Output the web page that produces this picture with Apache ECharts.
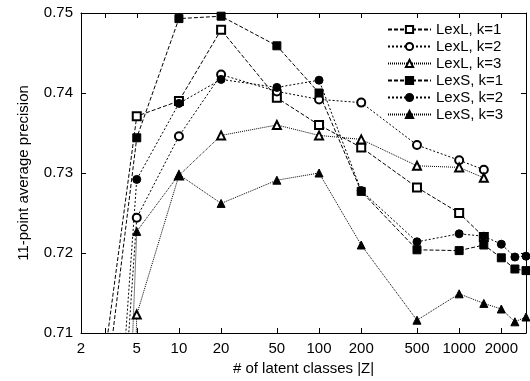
<!DOCTYPE html>
<html>
<head>
<meta charset="utf-8">
<script src="https://cdn.jsdelivr.net/npm/echarts@6/dist/echarts.min.js"></script>
<style>html,body{margin:0;padding:0;background:#fff;}#c{width:530px;height:381px;}</style>
</head>
<body>
<div id="c"></div>
<script>
// |Z| values (number of latent classes)
const zLexL = [2, 5, 10, 20, 50, 100, 200, 500, 1000, 1500];
const zLexS = [2, 5, 10, 20, 50, 100, 200, 500, 1000, 1500, 2000, 2500, 3000];
// 11-point average precision
const lexL1 = [0.6848, 0.7371, 0.7390, 0.7479, 0.7394, 0.7360, 0.7332, 0.7282, 0.7250, 0.7220];
const lexL2 = [0.6238, 0.7244, 0.7346, 0.7423, 0.7402, 0.7392, 0.7388, 0.7335, 0.7316, 0.7304];
const lexL3 = [0.4500, 0.7123, 0.7297, 0.7347, 0.7360, 0.7347, 0.7342, 0.7309, 0.7307, 0.7294];
const lexS1 = [0.6775, 0.7344, 0.7493, 0.7496, 0.7459, 0.7400, 0.7277, 0.7204, 0.7203, 0.7210, 0.7194, 0.7180, 0.7178];
const lexS2 = [0.6315, 0.7292, 0.7387, 0.7417, 0.7407, 0.7416, 0.7278, 0.7214, 0.7224, 0.7221, 0.7211, 0.7195, 0.7196];
const lexS3 = [0.5452, 0.7227, 0.7298, 0.7262, 0.7291, 0.7300, 0.7210, 0.7116, 0.7149, 0.7137, 0.7130, 0.7114, 0.7120];
// axis ticks / labels
const xTickValues = [2, 3, 5, 10, 20, 50, 100, 200, 500, 1000, 2000];
const xLabelValues = [2, 5, 10, 20, 50, 100, 200, 500, 1000, 2000];
const xMin = 2, xMax = 3000;
const yMin = 0.71, yMax = 0.75, yStep = 0.01;
const seriesNames = ['LexL, k=1', 'LexL, k=2', 'LexL, k=3', 'LexS, k=1', 'LexS, k=2', 'LexS, k=3'];

const L = v => Math.log10(v);
const pairs = (xs, ys) => xs.map((x, i) => [L(x), ys[i]]);

const FONT = 'Liberation Sans';
const dash1 = [4, 2], dash2 = [2, 2], dash3 = [1, 1];
function mk(name, xs, ys, symbol, dash) {
  return {
    name, type: 'line', data: pairs(xs, ys), clip: true,
    symbol, symbolSize: 8, showSymbol: true,
    lineStyle: { color: '#000', width: 1, type: dash },
    itemStyle: { color: '#000', borderColor: '#000', borderWidth: 1 },
    emphasis: { disabled: true }, animation: false
  };
}

const chart = echarts.init(document.getElementById('c'), null, { renderer: 'canvas' });
const xCommon = {
  type: 'value', min: L(xMin), max: L(xMax),
  splitLine: { show: false },
  axisLine: { show: true, onZero: false, lineStyle: { color: '#000', width: 1 } }
};
chart.setOption({
  animation: false,
  backgroundColor: '#fff',
  textStyle: { fontFamily: FONT },
  grid: { left: 81, right: 4, top: 13, bottom: 48, containLabel: false },
  legend: {
    orient: 'vertical', left: 382, top: 17,
    itemWidth: 43, itemHeight: 9, itemGap: 2,
    data: seriesNames,
    textStyle: { fontFamily: FONT, fontSize: 15, color: '#000' },
    selectedMode: false
  },
  xAxis: [
    Object.assign({}, xCommon, {
      position: 'bottom',
      name: '# of latent classes |Z|', nameLocation: 'middle', nameGap: 27,
      nameTextStyle: { fontFamily: FONT, fontSize: 15, color: '#000' },
      axisTick: { show: true, inside: true, length: 5, customValues: xTickValues.map(L), lineStyle: { color: '#000' } },
      axisLabel: { show: true, margin: 8, fontFamily: FONT, fontSize: 15, color: '#000',
        customValues: xLabelValues.map(L), formatter: v => String(Math.round(Math.pow(10, v))) }
    }),
    Object.assign({}, xCommon, {
      position: 'top',
      axisTick: { show: true, inside: true, length: 5, customValues: xTickValues.map(L), lineStyle: { color: '#000' } },
      axisLabel: { show: false }
    })
  ],
  yAxis: [
    {
      type: 'value', min: yMin, max: yMax, interval: yStep, position: 'left',
      name: '11-point average precision', nameLocation: 'middle', nameGap: 50,
      nameTextStyle: { fontFamily: FONT, fontSize: 15, color: '#000' },
      splitLine: { show: false },
      axisLine: { show: true, lineStyle: { color: '#000' } },
      axisTick: { show: true, inside: true, length: 5, lineStyle: { color: '#000' } },
      axisLabel: { margin: 8, fontFamily: FONT, fontSize: 15, color: '#000', formatter: v => v.toFixed(2) }
    },
    {
      type: 'value', min: yMin, max: yMax, interval: yStep, position: 'right',
      splitLine: { show: false },
      axisLine: { show: true, lineStyle: { color: '#000' } },
      axisTick: { show: true, inside: true, length: 5, lineStyle: { color: '#000' } },
      axisLabel: { show: false }
    }
  ],
  series: [
    mk(seriesNames[0], zLexL, lexL1, 'emptyRect', dash1),
    mk(seriesNames[1], zLexL, lexL2, 'emptyCircle', dash2),
    mk(seriesNames[2], zLexL, lexL3, 'emptyTriangle', dash3),
    mk(seriesNames[3], zLexS, lexS1, 'rect', dash1),
    mk(seriesNames[4], zLexS, lexS2, 'circle', dash2),
    mk(seriesNames[5], zLexS, lexS3, 'triangle', dash3)
  ]
});
</script>
</body>
</html>
